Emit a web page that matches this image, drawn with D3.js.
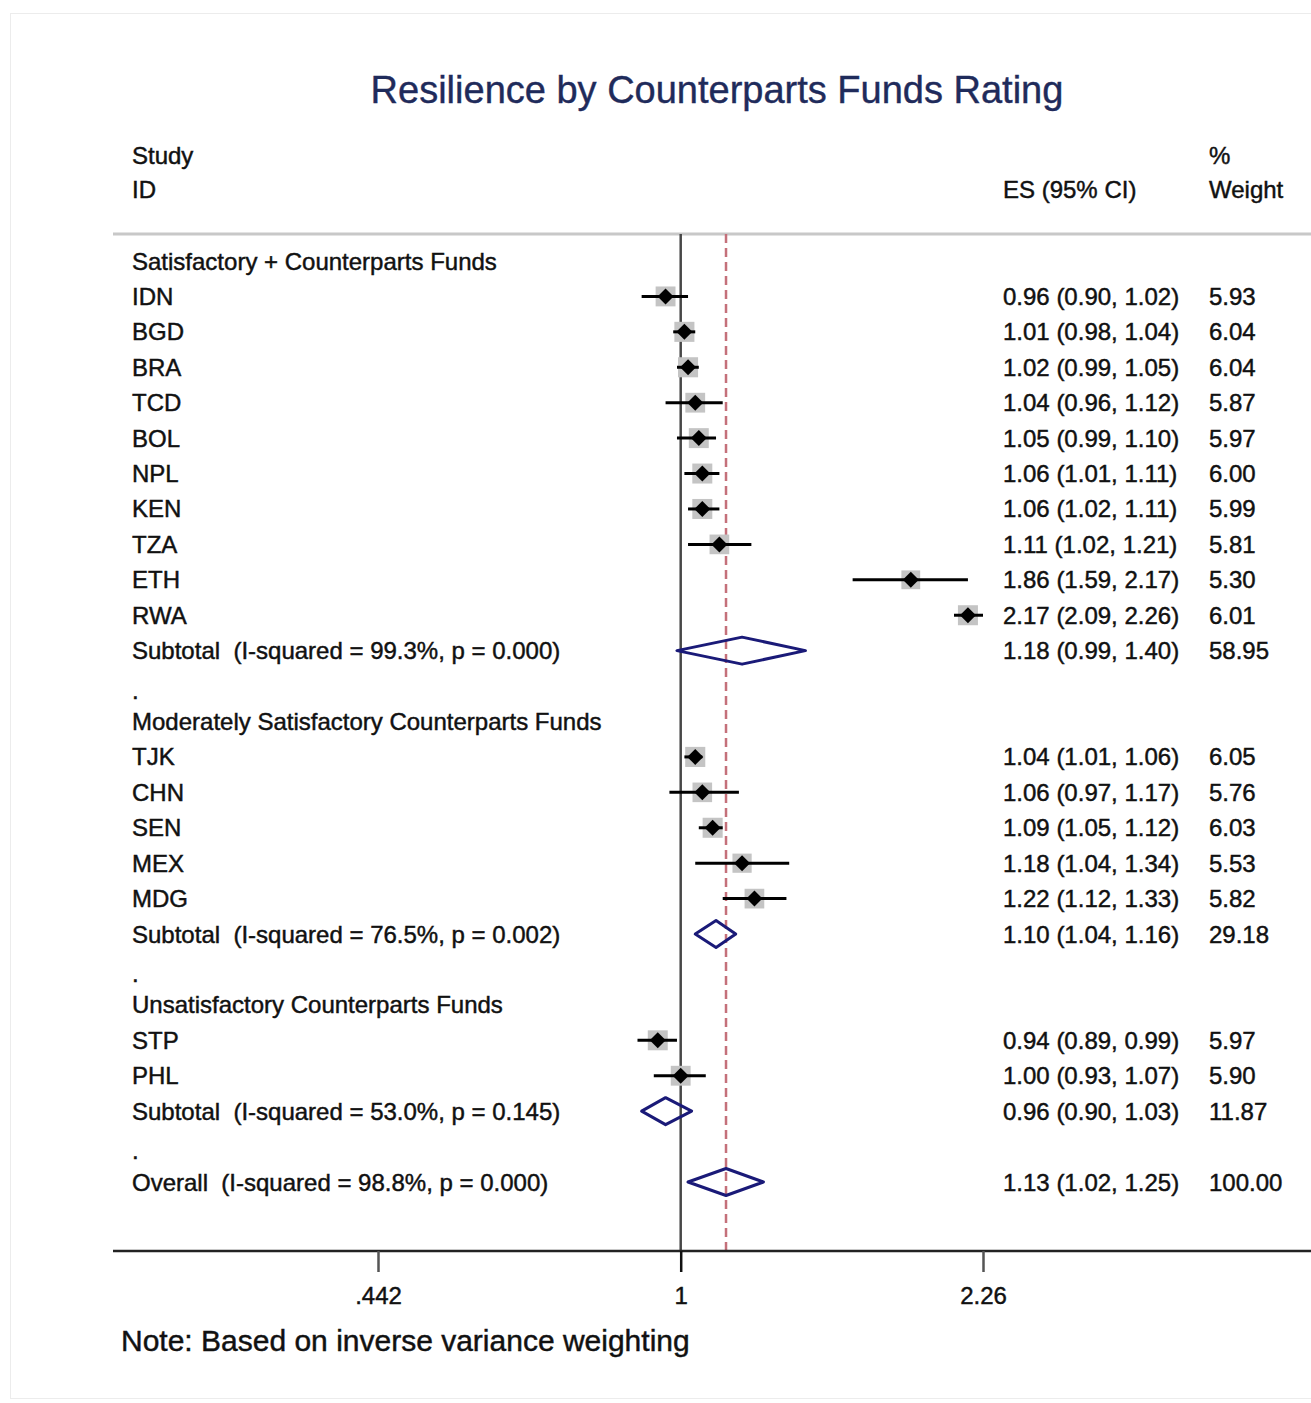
<!DOCTYPE html>
<html>
<head>
<meta charset="utf-8">
<script src="https://cdnjs.cloudflare.com/ajax/libs/d3/7.8.5/d3.min.js"></script>
<style>
  html, body { margin: 0; padding: 0; background: #ffffff; }
  svg { display: block; }
  text { font-family: "Liberation Sans", Arial, sans-serif; fill: #111; white-space: pre; }
  text.heavy { stroke: #111; stroke-width: 0.45px; }
</style>
</head>
<body>
<svg id="chart" width="1311" height="1403"></svg>
<script>
// ---------------- DATA ----------------
const titleText = "Resilience by Counterparts Funds Rating";
const noteText = "Note: Based on inverse variance weighting";

const groupNames = [
  "Satisfactory + Counterparts Funds",
  "Moderately Satisfactory Counterparts Funds",
  "Unsatisfactory Counterparts Funds"
];

const studyIds   = ["IDN","BGD","BRA","TCD","BOL","NPL","KEN","TZA","ETH","RWA","TJK","CHN","SEN","MEX","MDG","STP","PHL"];
const studyGroup = [0,0,0,0,0,0,0,0,0,0,1,1,1,1,1,2,2];
const studyES    = [0.96,1.01,1.02,1.04,1.05,1.06,1.06,1.11,1.86,2.17,1.04,1.06,1.09,1.18,1.22,0.94,1.00];
const studyLo    = [0.90,0.98,0.99,0.96,0.99,1.01,1.02,1.02,1.59,2.09,1.01,0.97,1.05,1.04,1.12,0.89,0.93];
const studyHi    = [1.02,1.04,1.05,1.12,1.10,1.11,1.11,1.21,2.17,2.26,1.06,1.17,1.12,1.34,1.33,0.99,1.07];
const studyW     = [5.93,6.04,6.04,5.87,5.97,6.00,5.99,5.81,5.30,6.01,6.05,5.76,6.03,5.53,5.82,5.97,5.90];

const subES   = [1.18, 1.10, 0.96];
const subLo   = [0.99, 1.04, 0.90];
const subHi   = [1.40, 1.16, 1.03];
const subW    = [58.95, 29.18, 11.87];
const subI2   = ["99.3%", "76.5%", "53.0%"];
const subP    = ["0.000", "0.002", "0.145"];

const overallES = 1.13, overallLo = 1.02, overallHi = 1.25, overallW = 100.00;
const overallI2 = "98.8%", overallP = "0.000";

const tickValues = [0.442, 1, 2.26];
const tickLabels = [".442", "1", "2.26"];

// ---------------- BUILD ROWS ----------------
const rows = [];
groupNames.forEach((g, gi) => {
  rows.push({type: "header", label: g});
  studyIds.forEach((id, i) => {
    if (studyGroup[i] === gi) rows.push({type: "study", label: id, es: studyES[i], lo: studyLo[i], hi: studyHi[i], w: studyW[i]});
  });
  rows.push({type: "sub", label: "Subtotal  (I-squared = " + subI2[gi] + ", p = " + subP[gi] + ")",
             es: subES[gi], lo: subLo[gi], hi: subHi[gi], w: subW[gi]});
  rows.push({type: "dot", label: "."});
});
rows.push({type: "sub", label: "Overall  (I-squared = " + overallI2 + ", p = " + overallP + ")",
           es: overallES, lo: overallLo, hi: overallHi, w: overallW});

// ---------------- SCALES ----------------
const svg = d3.select("#chart");
const x = d3.scaleLog().domain([0.442, 2.26]).range([378, 983]);
const y = d3.scaleLinear().domain([0, rows.length - 1]).range([261, 1182]);
const sizeScale = d3.scaleSqrt().domain([0, 6]).range([0, 20]);

const f2 = d3.format(".2f");
const fontSize = 24;

// frame
svg.append("rect").attr("x", 10.5).attr("y", 13.5).attr("width", 1320).attr("height", 1385)
  .attr("fill", "none").attr("stroke", "#ececec").attr("stroke-width", 1);

// title
svg.append("text").attr("x", 717).attr("y", 90).attr("text-anchor", "middle")
  .attr("dominant-baseline", "central").attr("font-size", 38).style("fill", "#1f2b5b")
  .style("stroke", "#1f2b5b").style("stroke-width", 0.4)
  .text(titleText);

// column headers
const hdr = svg.append("g").attr("font-size", fontSize);
const hdrItems = [
  {x: 132, y: 155, t: "Study"}, {x: 132, y: 189, t: "ID"},
  {x: 1003, y: 189, t: "ES (95% CI)"}, {x: 1209, y: 155, t: "%"}, {x: 1209, y: 189, t: "Weight"}
];
hdr.selectAll("text").data(hdrItems).join("text").attr("class", "heavy")
  .attr("x", d => d.x).attr("y", d => d.y).attr("dominant-baseline", "central").text(d => d.t);

// header separator
svg.append("line").attr("x1", 113).attr("x2", 1311).attr("y1", 234).attr("y2", 234)
  .attr("stroke", "#c8c8c8").attr("stroke-width", 3);

const yTop = 234, yAxis = 1251;

// null line at 1
svg.append("line").attr("x1", x(1)).attr("x2", x(1)).attr("y1", yTop).attr("y2", yAxis)
  .attr("stroke", "#474747").attr("stroke-width", 2.5);

// overall dashed line
svg.append("line").attr("x1", x(overallES)).attr("x2", x(overallES)).attr("y1", yTop).attr("y2", yAxis)
  .attr("stroke", "#c4707a").attr("stroke-width", 2.5).attr("stroke-dasharray", "9,5");

// rows
const rowG = svg.selectAll("g.row").data(rows).join("g").attr("class", "row")
  .attr("transform", (d, i) => `translate(0,${y(i)})`);

rowG.append("text").attr("class", "heavy").attr("x", 132).attr("y", d => d.type === "dot" ? 4 : 0)
  .attr("dominant-baseline", "central").attr("font-size", fontSize).text(d => d.label);

const valueRows = rowG.filter(d => d.type === "study" || d.type === "sub");
valueRows.append("text").attr("class", "heavy").attr("x", 1003).attr("dominant-baseline", "central").attr("font-size", fontSize)
  .text(d => `${f2(d.es)} (${f2(d.lo)}, ${f2(d.hi)})`);
valueRows.append("text").attr("class", "heavy").attr("x", 1209).attr("dominant-baseline", "central").attr("font-size", fontSize)
  .text(d => f2(d.w));

// study markers
const st = rowG.filter(d => d.type === "study");
st.append("rect")
  .attr("x", d => x(d.es) - sizeScale(d.w) / 2).attr("y", d => -sizeScale(d.w) / 2)
  .attr("width", d => sizeScale(d.w)).attr("height", d => sizeScale(d.w))
  .attr("fill", "#c4c4c4");
st.append("line").attr("x1", d => x(d.lo)).attr("x2", d => x(d.hi))
  .attr("stroke", "#000").attr("stroke-width", 3);
st.append("path")
  .attr("d", d => { const cx = x(d.es), h = 8; return `M${cx - h},0L${cx},${-h}L${cx + h},0L${cx},${h}Z`; })
  .attr("fill", "#000");

// subtotal/overall diamonds
rowG.filter(d => d.type === "sub").append("path")
  .attr("d", d => { const h = 13.5; return `M${x(d.lo)},0L${x(d.es)},${-h}L${x(d.hi)},0L${x(d.es)},${h}Z`; })
  .attr("fill", "none").attr("stroke", "#1a1a78").attr("stroke-width", 3).attr("stroke-linejoin", "round");

// x axis
svg.append("line").attr("x1", 113).attr("x2", 1311).attr("y1", yAxis).attr("y2", yAxis)
  .attr("stroke", "#222").attr("stroke-width", 2.5);
const axis = d3.axisBottom(x).tickValues(tickValues)
  .tickFormat((d, i) => tickLabels[i]).tickSize(21).tickPadding(15);
const ax = svg.append("g").attr("transform", `translate(0,${yAxis})`).call(axis);
ax.select(".domain").remove();
ax.selectAll(".tick line").attr("stroke", (d) => d === 1 ? "#111" : "#555").attr("stroke-width", 2.5);
ax.selectAll(".tick text").attr("class", "heavy").attr("font-size", 24)
  .attr("font-family", "Liberation Sans, Arial, sans-serif").style("fill", "#111");

// note
svg.append("text").attr("class", "heavy").attr("x", 121).attr("y", 1340).attr("dominant-baseline", "central")
  .attr("font-size", 30).text(noteText);
</script>
</body>
</html>
